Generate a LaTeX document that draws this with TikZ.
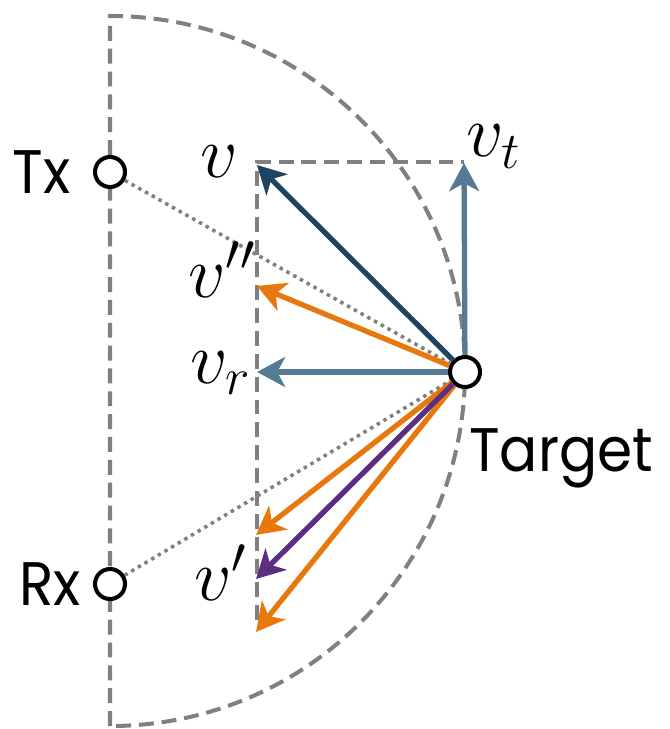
\documentclass[tikz,border=0pt]{standalone}
\usepackage{fix-cm}
\usepackage{fontspec}
\newfontfamily\sitefont[FakeStretch=0.92]{Poppins}
\usepackage{tikz}
\usetikzlibrary{arrows.meta,positioning}
\definecolor{vnavy}{HTML}{1F4461}
\definecolor{vsteel}{HTML}{557A95}
\definecolor{vorange}{HTML}{E8780E}
\definecolor{vpurple}{HTML}{5B2E80}
\definecolor{guidegray}{HTML}{808080}
\tikzset{
    vec/.style={line width=3pt, -{Stealth[length=16pt,width=17pt,inset=4.5pt]}},
    guide/.style={guidegray, line width=2.3pt, dash pattern=on 8.5pt off 4.5pt},
    ray/.style={guidegray, line width=2pt, dash pattern=on 2pt off 2.4pt},
    station/.style={circle, draw, line width=2.3pt, fill=white, minimum size=0.6cm, inner sep=0pt},
    vlabel/.style={anchor=base west, inner sep=0pt, font=\fontsize{42}{44}\selectfont},
    sitelabel/.style={inner sep=0pt, font=\sitefont\fontsize{35}{40}\selectfont}
}

\begin{document}
\begin{tikzpicture}[x=0.02cm, y=-0.02cm]
    \useasboundingbox (0,0) rectangle (669,729);
    \draw[guide] (110,726) -- (110,16) arc[start angle=-90, end angle=90, radius=355];
    \draw[guide] (257,620) -- (257,162) -- (464,162);
    \node[station] (tx) at (110,172) {};
    \node[station] (rx) at (110,584) {};
    \node[station] (target) at (465,372) {};
    \node[sitelabel, left=0.44cm of tx] (txlabel) {Tx};
    \node[sitelabel, left=0.24cm of rx] (rxlabel) {Rx};
    \node[sitelabel, anchor=base west] (targetlabel) at (469,471) {Target};
    \coordinate (vtip) at (257,165);
    \coordinate (vttip) at (464,163);
    \coordinate (vrtip) at (257,372);
    \coordinate (vpptip) at (257,286);
    \coordinate (lowtipa) at (256,535);
    \coordinate (vptip) at (256,579);
    \coordinate (lowtipb) at (256,632);
    \draw[ray] (tx) -- (target);
    \draw[ray] (rx) -- (target);
    \draw[vec, vsteel] (target) -- (vttip);
    \draw[vec, vsteel] (target) -- (vrtip);
    \draw[vec, vnavy] (target) -- (vtip);
    \draw[vec, vorange] (target) -- (vpptip);
    \draw[vec, vorange] (target) -- (lowtipa);
    \draw[vec, vorange] (target) -- (lowtipb);
    \draw[vec, vpurple] (target) -- (vptip);
    \node[vlabel] (vlab) at (200,178) {$v$};
    \node[vlabel] (vtlab) at (466,157) {$v_t$};
    \node[vlabel] (vpplab) at (188,297) {$v''$};
    \node[vlabel] (vrlab) at (190,383) {$v_r$};
    \node[vlabel] (vplab) at (194,600) {$v'$};
\end{tikzpicture}
\end{document}
